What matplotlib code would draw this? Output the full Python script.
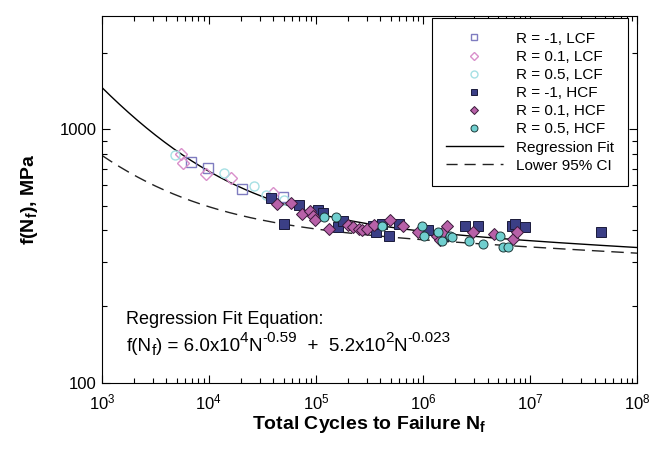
import numpy as np
import matplotlib
matplotlib.use("Agg")
import matplotlib.pyplot as plt
from matplotlib.lines import Line2D
from matplotlib.ticker import LogLocator, NullFormatter, FixedLocator, FixedFormatter

plt.rcParams['font.family'] = ['Liberation Sans', 'DejaVu Sans']
plt.rcParams['mathtext.fontset'] = 'custom'
plt.rcParams['mathtext.rm'] = 'Liberation Sans'
plt.rcParams['mathtext.it'] = 'Liberation Sans:italic'
plt.rcParams['mathtext.bf'] = 'Liberation Sans:bold'

# ---- data (cycles, MPa) ----
lcf_m1_n = [6.8e3, 9.8e3, 2.05e4, 4.9e4]
lcf_m1_s = [745, 706, 579, 540]

lcf_01_n = [5.45e3, 5.75e3, 9.4e3, 1.61e4, 3.94e4]
lcf_01_s = [800, 738, 664, 644, 558]

lcf_05_n = [4.8e3, 1.39e4, 2.64e4, 3.41e4, 5.06e4]
lcf_05_s = [789, 674, 597, 551, 524]

hcf_m1_n = [3.82e4, 5.02e4, 6.89e4, 1.05e5, 1.16e5, 1.61e5, 1.80e5, 3.44e5, 3.67e5,
            4.17e5, 4.84e5, 6.0e5, 1.11e6, 1.54e6, 2.45e6, 3.29e6, 6.75e6, 7.25e6,
            8.9e6, 4.61e7]
hcf_m1_s = [536, 423, 501, 482, 466, 412, 433, 415, 393,
            424, 379, 422, 401, 380, 414, 414, 414, 423,
            412, 394]

hcf_01_n = [4.3e4, 5.83e4, 7.35e4, 8.8e4, 9.4e4, 9.9e4, 1.32e5, 2.0e5, 2.23e5, 2.51e5,
            2.69e5, 3.0e5, 3.48e5, 4.94e5, 6.43e5, 8.97e5, 1.35e6, 1.44e6, 1.55e6,
            1.66e6, 2.9e6, 4.61e6, 6.93e6, 7.5e6]
hcf_01_s = [506, 510, 463, 476, 453, 439, 405, 418, 410, 404,
            399, 405, 420, 438, 414, 393, 379, 367, 393,
            416, 393, 385, 368, 394]

hcf_05_n = [1.2e5, 1.55e5, 4.18e5, 9.7e5, 1.02e6, 1.38e6, 1.5e6, 1.78e6, 1.88e6,
            2.71e6, 3.64e6, 5.27e6, 5.63e6, 6.16e6]
hcf_05_s = [450, 451, 415, 416, 379, 393, 363, 379, 377,
            361, 354, 379, 344, 344]

# fit coefficients: f = a*N^b + c*N^d
fit_coef = [6.0e4, -0.59, 5.2e2, -0.023]
ci_coef = [2.16e4, -0.59, 4.95e2, -0.023]

fig = plt.figure(figsize=(6.61, 4.53), dpi=100)
ax = fig.add_axes([0.154, 0.155, 0.81, 0.81])

nn = np.logspace(3, 8, 300)
a, b, c, d = fit_coef
ax.plot(nn, a * nn**b + c * nn**d, color='black', lw=1.0)
a, b, c, d = ci_coef
ax.plot(nn, a * nn**b + c * nn**d, color='#222222', lw=1.0, dashes=(9, 5))

ms = 6.5
ax.plot(lcf_m1_n, lcf_m1_s, 's', ms=ms, mfc='none', mec='#7f7cc0', mew=1.0, ls='none')
ax.plot(lcf_01_n, lcf_01_s, 'D', ms=ms - 0.5, mfc='none', mec='#d98fcb', mew=1.0, ls='none')
ax.plot(lcf_05_n, lcf_05_s, 'o', ms=ms, mfc='none', mec='#a6e0e4', mew=1.0, ls='none')
ax.plot(hcf_m1_n, hcf_m1_s, 's', ms=ms, mfc='#3b3f86', mec='#1a1a3a', mew=0.7, ls='none')
ax.plot(hcf_01_n, hcf_01_s, 'D', ms=ms - 0.5, mfc='#b861a8', mec='#3a1a3a', mew=0.7, ls='none')
ax.plot(hcf_05_n, hcf_05_s, 'o', ms=ms, mfc='#70cfcf', mec='#1e3a3a', mew=0.7, ls='none')

ax.set_xscale('log')
ax.set_yscale('log')
ax.set_xlim(1e3, 1e8)
ax.set_ylim(100, 2800)

ax.xaxis.set_major_locator(LogLocator(base=10, numticks=10))
ax.xaxis.set_minor_locator(LogLocator(base=10, subs=np.arange(2, 10), numticks=20))
ax.xaxis.set_minor_formatter(NullFormatter())
ax.yaxis.set_major_locator(FixedLocator([100, 1000]))
ax.yaxis.set_major_formatter(FixedFormatter(['100', '1000']))
ax.yaxis.set_minor_locator(LogLocator(base=10, subs=np.arange(2, 10), numticks=20))
ax.yaxis.set_minor_formatter(NullFormatter())
ax.tick_params(which='both', direction='in', top=True, right=True, labelsize=12, width=0.8)
ax.tick_params(which='major', length=6)
ax.tick_params(which='minor', length=3.5)
ax.tick_params(axis='x', pad=7)

ax.set_xlabel(r'Total Cycles to Failure N$_\mathbf{f}$', fontsize=14, fontweight='bold', labelpad=1)
ax.set_ylabel(r'f(N$_\mathbf{f}$), MPa', fontsize=14, fontweight='bold', labelpad=14)

ax.text(0.046, 0.159, 'Regression Fit Equation:', transform=ax.transAxes, fontsize=13)

# equation drawn piece by piece so the superscripts can be larger than mathtext allows
renderer = fig.canvas.get_renderer()
pieces = [("f(N", 13.5, 0), ("f", 11, -3), (") = 6.0x10", 13.5, 0), ("4", 11, 6.5),
          ("N", 13.5, 0), ("-0.59", 11, 6.5), ("  +  5.2x10", 13.5, 0), ("2", 11, 6.5),
          ("N", 13.5, 0), ("-0.023", 11, 6.5)]
off = 0.0
for txt, size, dy in pieces:
    t = ax.annotate(txt, xy=(0.046, 0.086), xycoords='axes fraction',
                    xytext=(off, dy), textcoords='offset points', fontsize=size,
                    va='baseline', ha='left')
    bb = t.get_window_extent(renderer)
    off += bb.width * 72.0 / fig.dpi

handles = [
    Line2D([], [], marker='s', ms=5, mfc='none', mec='#7f7cc0', ls='none'),
    Line2D([], [], marker='D', ms=4.5, mfc='none', mec='#d98fcb', ls='none'),
    Line2D([], [], marker='o', ms=5, mfc='none', mec='#a6e0e4', ls='none'),
    Line2D([], [], marker='s', ms=5, mfc='#3b3f86', mec='#1a1a3a', mew=0.7, ls='none'),
    Line2D([], [], marker='D', ms=4.5, mfc='#b861a8', mec='#3a1a3a', mew=0.7, ls='none'),
    Line2D([], [], marker='o', ms=5, mfc='#70cfcf', mec='#1e3a3a', mew=0.7, ls='none'),
    Line2D([], [], color='black', lw=1.0),
    Line2D([], [], color='#222222', lw=1.0, dashes=(8, 5)),
]
labels = ['R = -1, LCF', 'R = 0.1, LCF', 'R = 0.5, LCF', 'R = -1, HCF',
          'R = 0.1, HCF', 'R = 0.5, HCF', 'Regression Fit', 'Lower 95% CI']
leg = ax.legend(handles, labels, loc='upper right', bbox_to_anchor=(0.983, 0.994),
                borderaxespad=0, fontsize=11, handlelength=3.7, labelspacing=0.27,
                borderpad=0.9, handletextpad=0.9, fancybox=False, framealpha=1,
                edgecolor='black')
leg.get_frame().set_linewidth(0.8)

fig.savefig('out.png', dpi=100)
